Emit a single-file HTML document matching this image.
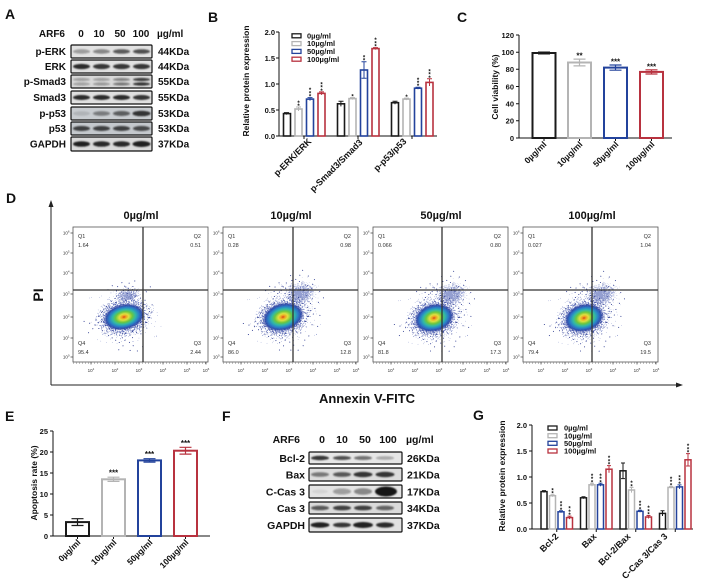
<!DOCTYPE html>
<html><head><meta charset="utf-8"><style>
html,body{margin:0;padding:0;background:#fff;}
svg{display:block;}
text{font-family:"Liberation Sans",Arial,sans-serif;font-weight:bold;fill:#111;}
.n{font-weight:normal;fill:#333;}
</style></head><body>
<svg width="701" height="584" viewBox="0 0 701 584">
<defs>
<filter id="bl" x="-50%" y="-100%" width="200%" height="300%"><feGaussianBlur stdDeviation="0.9"/></filter>
<filter id="speck" x="-5%" y="-5%" width="110%" height="110%" color-interpolation-filters="sRGB">
<feTurbulence type="fractalNoise" baseFrequency="0.9" numOctaves="2" seed="7" result="n"/>
<feComposite in="n" in2="SourceGraphic" operator="arithmetic" k1="0" k2="1" k3="0.6" k4="0" result="s"/>
<feComponentTransfer in="s" result="t"><feFuncA type="discrete" tableValues="0 0 0 0 0 0 0 0 1 1"/></feComponentTransfer>
<feFlood flood-color="#2f44a6" flood-opacity="0.85"/>
<feComposite in2="t" operator="in"/>
</filter>
<radialGradient id="fade">
<stop offset="0" stop-color="#fff" stop-opacity="1"/>
<stop offset="0.5" stop-color="#fff" stop-opacity="0.55"/>
<stop offset="1" stop-color="#fff" stop-opacity="0"/>
</radialGradient>
<radialGradient id="dens">
<stop offset="0" stop-color="#d8401c"/>
<stop offset="0.1" stop-color="#f0a020"/>
<stop offset="0.23" stop-color="#e0e040"/>
<stop offset="0.4" stop-color="#6cc640"/>
<stop offset="0.56" stop-color="#30b8a8"/>
<stop offset="0.72" stop-color="#2a7ec8"/>
<stop offset="0.86" stop-color="#2a48a8" stop-opacity="0.9"/>
<stop offset="1" stop-color="#2a3a96" stop-opacity="0"/>
</radialGradient>
<path id="dots" fill="none" stroke="#2b3990" stroke-width="1" stroke-linecap="round" d="M-30 2h.1M-28 -3h.1M-27 6h.1M-25 -6h.1M-24 9h.1M-23 0h.1M-22 12h.1M-21 -9h.1M-20 4h.1M-19 15h.1M-18 -12h.1M-17 8h.1M-16 18h.1M-15 -14h.1M-14 11h.1M-13 21h.1M-12 -16h.1M-11 14h.1M-10 24h.1M-9 -18h.1M-8 17h.1M-6 20h.1M-5 -20h.1M-4 23h.1M-3 -22h.1M-2 16h.1M0 26h.1M1 -24h.1M2 19h.1M4 22h.1M5 -26h.1M6 15h.1M8 -22h.1M9 18h.1M10 -27h.1M11 12h.1M12 -20h.1M13 20h.1M14 -25h.1M15 9h.1M16 -18h.1M17 14h.1M18 -23h.1M19 4h.1M20 -15h.1M21 10h.1M22 -8h.1M23 2h.1M24 -12h.1M25 6h.1M26 -3h.1M27 -20h.1M28 1h.1M30 -6h.1M32 -24h.1M-33 5h.1M-35 -1h.1M3 30h.1M-7 28h.1M7 -30h.1M26 0h.1M24 6h.1M20 10h.1M13 14h.1M5 16h.1M-5 16h.1M-13 14h.1M-20 10h.1M-24 6h.1M-26 0h.1M-24 -6h.1M-20 -10h.1M-13 -14h.1M-5 -16h.1M5 -16h.1M13 -14h.1M20 -10h.1M24 -6h.1M-10 -30h.1M-5 -33h.1M0 -31h.1M5 -34h.1M8 -29h.1M12 -32h.1M15 -28h.1M18 -33h.1M-2 -27h.1M3 -25h.1M10 -25h.1M-1 34h.1M6 36h.1M-12 31h.1M12 33h.1M-38 8h.1M-40 -4h.1"/>
<path id="dots2" fill="none" stroke="#2b3990" stroke-width="1" stroke-linecap="round" d="M25 -30h.1M30 -25h.1M35 -20h.1M28 -15h.1M33 -10h.1M38 -5h.1M30 5h.1M36 8h.1M40 -28h.1M22 -33h.1M27 -36h.1M18 -38h.1M35 -33h.1M42 -15h.1M26 15h.1M31 18h.1M20 25h.1M15 28h.1M44 -8h.1M24 -22h.1M29 -8h.1M33 0h.1M27 -28h.1M37 -24h.1M31 -40h.1"/>
</defs>

<!-- ================= PANEL A ================= -->
<text x="5" y="19" font-size="14">A</text>
<g font-size="10">
<text x="65" y="37" text-anchor="end">ARF6</text>
<text x="81" y="37" text-anchor="middle">0</text>
<text x="99" y="37" text-anchor="middle">10</text>
<text x="120" y="37" text-anchor="middle">50</text>
<text x="141" y="37" text-anchor="middle">100</text>
<text x="157" y="37">µg/ml</text>
<text x="66" y="55" text-anchor="end">p-ERK</text>
<text x="66" y="70" text-anchor="end">ERK</text>
<text x="66" y="85" text-anchor="end">p-Smad3</text>
<text x="66" y="101" text-anchor="end">Smad3</text>
<text x="66" y="117" text-anchor="end">p-p53</text>
<text x="66" y="132" text-anchor="end">p53</text>
<text x="66" y="147.5" text-anchor="end">GAPDH</text>
<text x="158" y="55">44KDa</text>
<text x="158" y="70">44KDa</text>
<text x="158" y="85">55KDa</text>
<text x="158" y="101">55KDa</text>
<text x="158" y="117">53KDa</text>
<text x="158" y="132">53KDa</text>
<text x="158" y="147.5">37KDa</text>
</g>
<g stroke="#111" stroke-width="1.2">
<rect x="71" y="45" width="81" height="13" rx="1" fill="#e2e2e2"/>
<rect x="71" y="60" width="81" height="13" rx="1" fill="#e0e0e0"/>
<rect x="71" y="75" width="81" height="13" rx="1" fill="#d8d8d8"/>
<rect x="71" y="91" width="81" height="13" rx="1" fill="#e0e0e0"/>
<rect x="71" y="107" width="81" height="13" rx="1" fill="#c8ccd0"/>
<rect x="71" y="122" width="81" height="13" rx="1" fill="#c4c8cc"/>
<rect x="71" y="137" width="81" height="14" rx="1" fill="#dadada"/>
</g>
<g fill="#151515" filter="url(#bl)">
<ellipse cx="81.5" cy="51.5" rx="8.5" ry="2.2" opacity="0.35"/><ellipse cx="101.5" cy="51.5" rx="8.5" ry="2.2" opacity="0.45"/><ellipse cx="121.5" cy="51.5" rx="8.5" ry="2.3" opacity="0.65"/><ellipse cx="141.5" cy="51.5" rx="8.5" ry="2.3" opacity="0.7"/>
<ellipse cx="81.5" cy="66.5" rx="8.5" ry="2.6" opacity="0.9"/><ellipse cx="101.5" cy="66.5" rx="8.5" ry="2.6" opacity="0.85"/><ellipse cx="121.5" cy="66.5" rx="8.5" ry="2.6" opacity="0.85"/><ellipse cx="141.5" cy="66.5" rx="8.5" ry="2.6" opacity="0.85"/>
<ellipse cx="81.5" cy="79.5" rx="8.5" ry="1.5" opacity="0.3"/><ellipse cx="101.5" cy="79.5" rx="8.5" ry="1.5" opacity="0.3"/><ellipse cx="121.5" cy="79.5" rx="8.5" ry="1.5" opacity="0.45"/><ellipse cx="141.5" cy="79.5" rx="8.5" ry="1.6" opacity="0.8"/>
<ellipse cx="81.5" cy="84" rx="8.5" ry="1.5" opacity="0.3"/><ellipse cx="101.5" cy="84" rx="8.5" ry="1.5" opacity="0.35"/><ellipse cx="121.5" cy="84" rx="8.5" ry="1.5" opacity="0.5"/><ellipse cx="141.5" cy="84" rx="8.5" ry="1.6" opacity="0.85"/>
<ellipse cx="81.5" cy="97.5" rx="8.5" ry="2.5" opacity="0.9"/><ellipse cx="101.5" cy="97.5" rx="8.5" ry="2.5" opacity="0.9"/><ellipse cx="121.5" cy="97.5" rx="8.5" ry="2.5" opacity="0.9"/><ellipse cx="141.5" cy="97.5" rx="8.5" ry="2.5" opacity="0.85"/>
<ellipse cx="81.5" cy="113.5" rx="8.5" ry="2.3" opacity="0.12"/><ellipse cx="101.5" cy="113.5" rx="8.5" ry="2.3" opacity="0.45"/><ellipse cx="121.5" cy="113.5" rx="8.5" ry="2.5" opacity="0.6"/><ellipse cx="141.5" cy="113.5" rx="9" ry="2.8" opacity="0.85"/>
<ellipse cx="81.5" cy="128.5" rx="8.5" ry="2.5" opacity="0.75"/><ellipse cx="101.5" cy="128.5" rx="8.5" ry="2.5" opacity="0.75"/><ellipse cx="121.5" cy="128.5" rx="8.5" ry="2.5" opacity="0.75"/><ellipse cx="141.5" cy="128.5" rx="8.5" ry="2.5" opacity="0.7"/>
<ellipse cx="81.5" cy="144" rx="8.5" ry="2.8" opacity="0.95"/><ellipse cx="101.5" cy="144" rx="8.5" ry="2.8" opacity="0.9"/><ellipse cx="121.5" cy="144" rx="8.5" ry="2.8" opacity="0.9"/><ellipse cx="141.5" cy="144" rx="9" ry="3" opacity="0.95"/>
</g>

<!-- ================= PANEL B ================= -->
<text x="208" y="22" font-size="14">B</text>
<text transform="translate(249,81) rotate(-90)" font-size="8.5" text-anchor="middle">Relative protein expression</text>
<g stroke="#111" stroke-width="1" fill="none">
<path d="M279 32V136H437"/>
<path d="M276 32H279M276 58H279M276 84H279M276 110H279M276 136H279M304 136V139M358 136V139M412 136V139"/>
</g>
<g font-size="7.5" text-anchor="end">
<text x="275" y="34.8">2.0</text><text x="275" y="60.8">1.5</text><text x="275" y="86.8">1.0</text><text x="275" y="112.8">0.5</text><text x="275" y="138.8">0.0</text>
</g>
<g fill="#fff" stroke-width="1.6">
<rect x="283.5" y="113.6" width="7" height="22.4" stroke="#1a1a1a"/>
<rect x="295" y="109" width="7" height="27" stroke="#b4b4b4"/>
<rect x="306.5" y="99.1" width="7" height="36.9" stroke="#23439c"/>
<rect x="318" y="93.4" width="7" height="42.6" stroke="#b8323f"/>
<rect x="337.5" y="103.8" width="7" height="32.2" stroke="#1a1a1a"/>
<rect x="349" y="98.6" width="7" height="37.4" stroke="#b4b4b4"/>
<rect x="360.5" y="70" width="7" height="66" stroke="#23439c"/>
<rect x="372" y="48.6" width="7" height="87.4" stroke="#b8323f"/>
<rect x="391.5" y="102.7" width="7" height="33.3" stroke="#1a1a1a"/>
<rect x="403" y="99.1" width="7" height="36.9" stroke="#b4b4b4"/>
<rect x="414.5" y="88.2" width="7" height="47.8" stroke="#23439c"/>
<rect x="426" y="82.4" width="7" height="53.6" stroke="#b8323f"/>
</g>
<g fill="none" stroke-width="1">
<path stroke="#1a1a1a" d="M286.5 112.6V114.6M284 112.6h5M340.9 101.2V106.4M338.5 101.2h5M395 101.2V104.2M392.5 101.2h5"/>
<path stroke="#b4b4b4" d="M298.5 107V111M296 107h5M352.5 97.6V99.6M350 97.6h5M406.5 98.1V100.1M404 98.1h5"/>
<path stroke="#23439c" d="M310 97.6V100.6M307.5 97.6h5M364 61.7V78.3M361.5 61.7h5M361.5 78.3h5M418 87.2V89.2M415.5 87.2h5"/>
<path stroke="#b8323f" d="M321.5 91.9V94.9M319 91.9h5M375.5 47.6V49.6M373 47.6h5M429.5 78.8V86M427 78.8h5"/>
</g>
<g font-size="6" text-anchor="middle">
<text x="298.5" y="108">*</text><text x="298.5" y="104.8">*</text>
<text x="310" y="98.6">*</text><text x="310" y="95.4">*</text><text x="310" y="92.2">*</text>
<text x="321.5" y="92.9">*</text><text x="321.5" y="89.7">*</text><text x="321.5" y="86.5">*</text>
<text x="352.5" y="98.6">*</text>
<text x="364" y="62.7">*</text><text x="364" y="59.5">*</text>
<text x="375.5" y="48.6">*</text><text x="375.5" y="45.4">*</text><text x="375.5" y="42.2">*</text>
<text x="406.5" y="99.1">*</text>
<text x="418" y="88.2">*</text><text x="418" y="85">*</text><text x="418" y="81.8">*</text>
<text x="429.5" y="79.8">*</text><text x="429.5" y="76.6">*</text><text x="429.5" y="73.4">*</text>
</g>
<g fill="#fff" stroke-width="1.3">
<rect x="292" y="33.8" width="9" height="4" stroke="#1a1a1a"/>
<rect x="292" y="41.6" width="9" height="4" stroke="#b4b4b4"/>
<rect x="292" y="49.4" width="9" height="4" stroke="#23439c"/>
<rect x="292" y="57.2" width="9" height="4" stroke="#b8323f"/>
</g>
<g font-size="7.5">
<text x="307" y="38.4">0µg/ml</text><text x="307" y="46.2">10µg/ml</text><text x="307" y="54">50µg/ml</text><text x="307" y="61.8">100µg/ml</text>
</g>
<g font-size="9" text-anchor="end">
<text transform="translate(312,142) rotate(-45)">p-ERK/ERK</text>
<text transform="translate(363,143) rotate(-45)">p-Smad3/Smad3</text>
<text transform="translate(407,142) rotate(-45)">p-p53/p53</text>
</g>

<!-- ================= PANEL C ================= -->
<text x="457" y="22" font-size="14">C</text>
<text transform="translate(498,87) rotate(-90)" font-size="8.5" text-anchor="middle">Cell viability (%)</text>
<g stroke="#111" stroke-width="1" fill="none">
<path d="M519 35V138H672"/>
<path d="M516 138H519M516 120.8H519M516 103.7H519M516 86.5H519M516 69.3H519M516 52.2H519M516 35H519M544 138V141M579.5 138V141M615.5 138V141M651.5 138V141"/>
</g>
<g font-size="7.5" text-anchor="end">
<text x="514" y="140.8">0</text><text x="514" y="123.6">20</text><text x="514" y="106.5">40</text><text x="514" y="89.3">60</text><text x="514" y="72.1">80</text><text x="514" y="55">100</text><text x="514" y="37.8">120</text>
</g>
<g fill="#fff" stroke-width="2">
<rect x="532.5" y="53" width="23" height="85" stroke="#1a1a1a"/>
<rect x="568" y="62.5" width="23" height="75.5" stroke="#b4b4b4"/>
<rect x="604" y="67.6" width="23" height="70.4" stroke="#23439c"/>
<rect x="640" y="71.9" width="23" height="66.1" stroke="#b8323f"/>
</g>
<g fill="none" stroke-width="1.2">
<path stroke="#1a1a1a" d="M538 52.1h12M538 53.9h12"/>
<path stroke="#b4b4b4" d="M579.5 59.1V65.9M573.5 59.1h12M573.5 65.9h12"/>
<path stroke="#23439c" d="M615.5 65V70.2M609.5 65h12M609.5 70.2h12"/>
<path stroke="#b8323f" d="M651.5 69.8V74M645.5 69.8h12M645.5 74h12"/>
</g>
<g font-size="8" text-anchor="middle">
<text x="579.5" y="58.6">**</text><text x="615.5" y="64.6">***</text><text x="651.5" y="69.6">***</text>
</g>
<g font-size="8.5" text-anchor="end">
<text transform="translate(547,145) rotate(-45)">0µg/ml</text>
<text transform="translate(583,145) rotate(-45)">10µg/ml</text>
<text transform="translate(619,145) rotate(-45)">50µg/ml</text>
<text transform="translate(655,145) rotate(-45)">100µg/ml</text>
</g>

<!-- ================= PANEL D ================= -->
<text x="6" y="203" font-size="14">D</text>
<g stroke="#222" stroke-width="1" fill="none"><path d="M51 385V205M51 385H677"/></g>
<polygon points="51,200 48.5,207 53.5,207" fill="#222"/>
<polygon points="683,385 676,382.5 676,387.5" fill="#222"/>
<text transform="translate(43,295) rotate(-90)" font-size="14" text-anchor="middle">PI</text>
<text x="367" y="403" font-size="13" text-anchor="middle">Annexin V-FITC</text>
<g font-size="11" text-anchor="middle">
<text x="141" y="219">0µg/ml</text><text x="291" y="219">10µg/ml</text><text x="441" y="219">50µg/ml</text><text x="592" y="219">100µg/ml</text>
</g>

<!-- flow panel 1 -->
<g transform="translate(73,227)">
<g transform="translate(51,90) rotate(-12)">
<ellipse rx="33" ry="24" fill="url(#fade)" filter="url(#speck)"/>
<ellipse cx="8" cy="-20" rx="16" ry="9" fill="url(#fade)" filter="url(#speck)" opacity="0.6"/>
<use href="#dots"/>
<ellipse rx="21" ry="13" fill="url(#dens)"/>
</g>
<rect x="0" y="0" width="135" height="135" fill="none" stroke="#555" stroke-width="0.8"/>
<path d="M70 0V135M0 63H135" stroke="#333" stroke-width="1.3" fill="none"/>
<path d="M0 6h-2.5M0 26h-2.5M0 46h-2.5M0 67h-2.5M0 90h-2.5M0 111h-2.5M0 130h-2.5M18 135v2.5M42 135v2.5M66 135v2.5M90 135v2.5M114 135v2.5M133 135v2.5" stroke="#444" stroke-width="0.7"/>
<path d="M0 136.2H135" stroke="#555" stroke-width="1.2" stroke-dasharray="0.5 2.5"/>
<g font-size="4.5" text-anchor="end">
<text class="n" x="-3.5" y="7.5">10<tspan dy="-2" font-size="3">6</tspan></text>
<text class="n" x="-3.5" y="27.5">10<tspan dy="-2" font-size="3">5</tspan></text>
<text class="n" x="-3.5" y="47.5">10<tspan dy="-2" font-size="3">4</tspan></text>
<text class="n" x="-3.5" y="68.5">10<tspan dy="-2" font-size="3">3</tspan></text>
<text class="n" x="-3.5" y="91.5">10<tspan dy="-2" font-size="3">2</tspan></text>
<text class="n" x="-3.5" y="112.5">10<tspan dy="-2" font-size="3">1</tspan></text>
<text class="n" x="-3.5" y="131.5">10<tspan dy="-2" font-size="3">0</tspan></text>
</g>
<g font-size="4.5" text-anchor="middle">
<text class="n" x="18" y="145">10<tspan dy="-2" font-size="3">1</tspan></text>
<text class="n" x="42" y="145">10<tspan dy="-2" font-size="3">2</tspan></text>
<text class="n" x="66" y="145">10<tspan dy="-2" font-size="3">3</tspan></text>
<text class="n" x="90" y="145">10<tspan dy="-2" font-size="3">4</tspan></text>
<text class="n" x="114" y="145">10<tspan dy="-2" font-size="3">5</tspan></text>
<text class="n" x="133" y="145">10<tspan dy="-2" font-size="3">6</tspan></text>
</g>
<g font-size="5.5">
<text class="n" x="5" y="11">Q1</text><text class="n" x="5" y="20">1.64</text>
<text class="n" x="128" y="11" text-anchor="end">Q2</text><text class="n" x="128" y="20" text-anchor="end">0.51</text>
<text class="n" x="5" y="118">Q4</text><text class="n" x="5" y="127">95.4</text>
<text class="n" x="128" y="118" text-anchor="end">Q3</text><text class="n" x="128" y="127" text-anchor="end">2.44</text>
</g>
</g>

<!-- flow panel 2 -->
<g transform="translate(223,227)">
<g transform="translate(60,90) rotate(-15)">
<ellipse rx="33" ry="25" fill="url(#fade)" filter="url(#speck)"/>
<ellipse cx="22" cy="-18" rx="20" ry="14" fill="url(#fade)" filter="url(#speck)" opacity="0.6"/>
<use href="#dots"/><use href="#dots2"/>
<ellipse rx="21" ry="14" fill="url(#dens)"/>
</g>
<rect x="0" y="0" width="135" height="135" fill="none" stroke="#555" stroke-width="0.8"/>
<path d="M70 0V135M0 63H135" stroke="#333" stroke-width="1.3" fill="none"/>
<path d="M0 6h-2.5M0 26h-2.5M0 46h-2.5M0 67h-2.5M0 90h-2.5M0 111h-2.5M0 130h-2.5M18 135v2.5M42 135v2.5M66 135v2.5M90 135v2.5M114 135v2.5M133 135v2.5" stroke="#444" stroke-width="0.7"/>
<path d="M0 136.2H135" stroke="#555" stroke-width="1.2" stroke-dasharray="0.5 2.5"/>
<g font-size="4.5" text-anchor="end">
<text class="n" x="-3.5" y="7.5">10<tspan dy="-2" font-size="3">6</tspan></text>
<text class="n" x="-3.5" y="27.5">10<tspan dy="-2" font-size="3">5</tspan></text>
<text class="n" x="-3.5" y="47.5">10<tspan dy="-2" font-size="3">4</tspan></text>
<text class="n" x="-3.5" y="68.5">10<tspan dy="-2" font-size="3">3</tspan></text>
<text class="n" x="-3.5" y="91.5">10<tspan dy="-2" font-size="3">2</tspan></text>
<text class="n" x="-3.5" y="112.5">10<tspan dy="-2" font-size="3">1</tspan></text>
<text class="n" x="-3.5" y="131.5">10<tspan dy="-2" font-size="3">0</tspan></text>
</g>
<g font-size="4.5" text-anchor="middle">
<text class="n" x="18" y="145">10<tspan dy="-2" font-size="3">1</tspan></text>
<text class="n" x="42" y="145">10<tspan dy="-2" font-size="3">2</tspan></text>
<text class="n" x="66" y="145">10<tspan dy="-2" font-size="3">3</tspan></text>
<text class="n" x="90" y="145">10<tspan dy="-2" font-size="3">4</tspan></text>
<text class="n" x="114" y="145">10<tspan dy="-2" font-size="3">5</tspan></text>
<text class="n" x="133" y="145">10<tspan dy="-2" font-size="3">6</tspan></text>
</g>
<g font-size="5.5">
<text class="n" x="5" y="11">Q1</text><text class="n" x="5" y="20">0.28</text>
<text class="n" x="128" y="11" text-anchor="end">Q2</text><text class="n" x="128" y="20" text-anchor="end">0.98</text>
<text class="n" x="5" y="118">Q4</text><text class="n" x="5" y="127">86.0</text>
<text class="n" x="128" y="118" text-anchor="end">Q3</text><text class="n" x="128" y="127" text-anchor="end">12.8</text>
</g>
</g>

<!-- flow panel 3 -->
<g transform="translate(373,227)">
<g transform="translate(61,91) rotate(-15)">
<ellipse rx="32" ry="25" fill="url(#fade)" filter="url(#speck)"/>
<ellipse cx="22" cy="-18" rx="20" ry="14" fill="url(#fade)" filter="url(#speck)" opacity="0.6"/>
<use href="#dots"/><use href="#dots2"/>
<ellipse rx="20" ry="14" fill="url(#dens)"/>
</g>
<rect x="0" y="0" width="135" height="135" fill="none" stroke="#555" stroke-width="0.8"/>
<path d="M69 0V135M0 63H135" stroke="#333" stroke-width="1.3" fill="none"/>
<path d="M0 6h-2.5M0 26h-2.5M0 46h-2.5M0 67h-2.5M0 90h-2.5M0 111h-2.5M0 130h-2.5M18 135v2.5M42 135v2.5M66 135v2.5M90 135v2.5M114 135v2.5M133 135v2.5" stroke="#444" stroke-width="0.7"/>
<path d="M0 136.2H135" stroke="#555" stroke-width="1.2" stroke-dasharray="0.5 2.5"/>
<g font-size="4.5" text-anchor="end">
<text class="n" x="-3.5" y="7.5">10<tspan dy="-2" font-size="3">6</tspan></text>
<text class="n" x="-3.5" y="27.5">10<tspan dy="-2" font-size="3">5</tspan></text>
<text class="n" x="-3.5" y="47.5">10<tspan dy="-2" font-size="3">4</tspan></text>
<text class="n" x="-3.5" y="68.5">10<tspan dy="-2" font-size="3">3</tspan></text>
<text class="n" x="-3.5" y="91.5">10<tspan dy="-2" font-size="3">2</tspan></text>
<text class="n" x="-3.5" y="112.5">10<tspan dy="-2" font-size="3">1</tspan></text>
<text class="n" x="-3.5" y="131.5">10<tspan dy="-2" font-size="3">0</tspan></text>
</g>
<g font-size="4.5" text-anchor="middle">
<text class="n" x="18" y="145">10<tspan dy="-2" font-size="3">1</tspan></text>
<text class="n" x="42" y="145">10<tspan dy="-2" font-size="3">2</tspan></text>
<text class="n" x="66" y="145">10<tspan dy="-2" font-size="3">3</tspan></text>
<text class="n" x="90" y="145">10<tspan dy="-2" font-size="3">4</tspan></text>
<text class="n" x="114" y="145">10<tspan dy="-2" font-size="3">5</tspan></text>
<text class="n" x="133" y="145">10<tspan dy="-2" font-size="3">6</tspan></text>
</g>
<g font-size="5.5">
<text class="n" x="5" y="11">Q1</text><text class="n" x="5" y="20">0.066</text>
<text class="n" x="128" y="11" text-anchor="end">Q2</text><text class="n" x="128" y="20" text-anchor="end">0.80</text>
<text class="n" x="5" y="118">Q4</text><text class="n" x="5" y="127">81.8</text>
<text class="n" x="128" y="118" text-anchor="end">Q3</text><text class="n" x="128" y="127" text-anchor="end">17.3</text>
</g>
</g>

<!-- flow panel 4 -->
<g transform="translate(523,227)">
<g transform="translate(61,91) rotate(-15)">
<ellipse rx="32" ry="25" fill="url(#fade)" filter="url(#speck)"/>
<ellipse cx="22" cy="-18" rx="20" ry="14" fill="url(#fade)" filter="url(#speck)" opacity="0.6"/>
<use href="#dots"/><use href="#dots2"/>
<ellipse rx="20" ry="14" fill="url(#dens)"/>
</g>
<rect x="0" y="0" width="135" height="135" fill="none" stroke="#555" stroke-width="0.8"/>
<path d="M69 0V135M0 63H135" stroke="#333" stroke-width="1.3" fill="none"/>
<path d="M0 6h-2.5M0 26h-2.5M0 46h-2.5M0 67h-2.5M0 90h-2.5M0 111h-2.5M0 130h-2.5M18 135v2.5M42 135v2.5M66 135v2.5M90 135v2.5M114 135v2.5M133 135v2.5" stroke="#444" stroke-width="0.7"/>
<path d="M0 136.2H135" stroke="#555" stroke-width="1.2" stroke-dasharray="0.5 2.5"/>
<g font-size="4.5" text-anchor="end">
<text class="n" x="-3.5" y="7.5">10<tspan dy="-2" font-size="3">6</tspan></text>
<text class="n" x="-3.5" y="27.5">10<tspan dy="-2" font-size="3">5</tspan></text>
<text class="n" x="-3.5" y="47.5">10<tspan dy="-2" font-size="3">4</tspan></text>
<text class="n" x="-3.5" y="68.5">10<tspan dy="-2" font-size="3">3</tspan></text>
<text class="n" x="-3.5" y="91.5">10<tspan dy="-2" font-size="3">2</tspan></text>
<text class="n" x="-3.5" y="112.5">10<tspan dy="-2" font-size="3">1</tspan></text>
<text class="n" x="-3.5" y="131.5">10<tspan dy="-2" font-size="3">0</tspan></text>
</g>
<g font-size="4.5" text-anchor="middle">
<text class="n" x="18" y="145">10<tspan dy="-2" font-size="3">1</tspan></text>
<text class="n" x="42" y="145">10<tspan dy="-2" font-size="3">2</tspan></text>
<text class="n" x="66" y="145">10<tspan dy="-2" font-size="3">3</tspan></text>
<text class="n" x="90" y="145">10<tspan dy="-2" font-size="3">4</tspan></text>
<text class="n" x="114" y="145">10<tspan dy="-2" font-size="3">5</tspan></text>
<text class="n" x="133" y="145">10<tspan dy="-2" font-size="3">6</tspan></text>
</g>
<g font-size="5.5">
<text class="n" x="5" y="11">Q1</text><text class="n" x="5" y="20">0.027</text>
<text class="n" x="128" y="11" text-anchor="end">Q2</text><text class="n" x="128" y="20" text-anchor="end">1.04</text>
<text class="n" x="5" y="118">Q4</text><text class="n" x="5" y="127">79.4</text>
<text class="n" x="128" y="118" text-anchor="end">Q3</text><text class="n" x="128" y="127" text-anchor="end">19.5</text>
</g>
</g>

<!-- ================= PANEL E ================= -->
<text x="5" y="421" font-size="14">E</text>
<text transform="translate(37,483) rotate(-90)" font-size="8.5" text-anchor="middle">Apoptosis rate (%)</text>
<g stroke="#111" stroke-width="1" fill="none">
<path d="M53 431V536H210"/>
<path d="M50 536H53M50 515H53M50 494H53M50 473H53M50 452H53M50 431H53M77.5 536V539M113.5 536V539M149.5 536V539M185.5 536V539"/>
</g>
<g font-size="7.5" text-anchor="end">
<text x="48" y="538.8">0</text><text x="48" y="517.8">5</text><text x="48" y="496.8">10</text><text x="48" y="475.8">15</text><text x="48" y="454.8">20</text><text x="48" y="433.8">25</text>
</g>
<g fill="#fff" stroke-width="2">
<rect x="66" y="522.1" width="23" height="13.9" stroke="#1a1a1a"/>
<rect x="102" y="479.3" width="23" height="56.7" stroke="#b4b4b4"/>
<rect x="138" y="460.4" width="23" height="75.6" stroke="#23439c"/>
<rect x="174" y="450.7" width="23" height="85.3" stroke="#b8323f"/>
</g>
<g fill="none" stroke-width="1.2">
<path stroke="#1a1a1a" d="M77.5 518.7V525.5M71.5 518.7h12M71.5 525.5h12"/>
<path stroke="#b4b4b4" d="M113.5 477.2V481.4M107.5 477.2h12M107.5 481.4h12"/>
<path stroke="#23439c" d="M149.5 458.7V462.1M143.5 458.7h12M143.5 462.1h12"/>
<path stroke="#b8323f" d="M185.5 447.3V454.1M179.5 447.3h12M179.5 454.1h12"/>
</g>
<g font-size="8" text-anchor="middle">
<text x="113.5" y="475.7">***</text><text x="149.5" y="457.2">***</text><text x="185.5" y="445.8">***</text>
</g>
<g font-size="8.5" text-anchor="end">
<text transform="translate(81,543) rotate(-45)">0µg/ml</text>
<text transform="translate(117,543) rotate(-45)">10µg/ml</text>
<text transform="translate(153,543) rotate(-45)">50µg/ml</text>
<text transform="translate(189,543) rotate(-45)">100µg/ml</text>
</g>

<!-- ================= PANEL F ================= -->
<text x="222" y="421" font-size="14">F</text>
<g font-size="10.5">
<text x="300" y="443" text-anchor="end">ARF6</text>
<text x="322" y="443" text-anchor="middle">0</text>
<text x="342" y="443" text-anchor="middle">10</text>
<text x="365" y="443" text-anchor="middle">50</text>
<text x="388" y="443" text-anchor="middle">100</text>
<text x="406" y="443">µg/ml</text>
<text x="305" y="462" text-anchor="end">Bcl-2</text>
<text x="305" y="478.5" text-anchor="end">Bax</text>
<text x="305" y="495.5" text-anchor="end">C-Cas 3</text>
<text x="305" y="512" text-anchor="end">Cas 3</text>
<text x="305" y="529" text-anchor="end">GAPDH</text>
<text x="407" y="462">26KDa</text>
<text x="407" y="478.5">21KDa</text>
<text x="407" y="495.5">17KDa</text>
<text x="407" y="512">34KDa</text>
<text x="407" y="529">37KDa</text>
</g>
<g stroke="#111" stroke-width="1.2">
<rect x="309" y="452" width="93" height="12" rx="1" fill="#e6e6e6"/>
<rect x="309" y="468" width="93" height="13" rx="1" fill="#dcdcdc"/>
<rect x="309" y="485" width="93" height="13" rx="1" fill="#e4e4e4"/>
<rect x="309" y="502" width="93" height="12" rx="1" fill="#dadada"/>
<rect x="309" y="518" width="93" height="14" rx="1" fill="#e2e2e2"/>
</g>
<g fill="#151515" filter="url(#bl)">
<ellipse cx="320" cy="458" rx="9" ry="2.2" opacity="0.85"/><ellipse cx="342" cy="458" rx="9" ry="2" opacity="0.7"/><ellipse cx="363" cy="458" rx="9" ry="2" opacity="0.55"/><ellipse cx="385" cy="458" rx="9" ry="1.8" opacity="0.3"/>
<ellipse cx="320" cy="474.5" rx="9" ry="2.3" opacity="0.5"/><ellipse cx="342" cy="474.5" rx="9" ry="2.4" opacity="0.65"/><ellipse cx="363" cy="474.5" rx="9.5" ry="2.7" opacity="0.85"/><ellipse cx="385" cy="474.5" rx="9.5" ry="2.7" opacity="0.85"/>
<ellipse cx="320" cy="491.5" rx="8" ry="2" opacity="0.07"/><ellipse cx="342" cy="491.5" rx="9" ry="3" opacity="0.35"/><ellipse cx="363" cy="491.5" rx="9" ry="3.2" opacity="0.45"/><ellipse cx="386" cy="491.5" rx="11" ry="5" opacity="1"/>
<ellipse cx="320" cy="508" rx="9" ry="2.3" opacity="0.65"/><ellipse cx="342" cy="508" rx="9" ry="2.4" opacity="0.8"/><ellipse cx="363" cy="508" rx="9" ry="2.4" opacity="0.8"/><ellipse cx="385" cy="508" rx="9" ry="2.3" opacity="0.6"/>
<ellipse cx="320" cy="525" rx="9.5" ry="2.7" opacity="0.95"/><ellipse cx="342" cy="525" rx="9" ry="2.4" opacity="0.85"/><ellipse cx="363" cy="525" rx="10" ry="3" opacity="0.95"/><ellipse cx="385" cy="525" rx="9" ry="2.6" opacity="0.9"/>
</g>

<!-- ================= PANEL G ================= -->
<text x="473" y="420" font-size="14">G</text>
<text transform="translate(505,476) rotate(-90)" font-size="8.5" text-anchor="middle">Relative protein expression</text>
<g stroke="#111" stroke-width="1" fill="none">
<path d="M532 425V529H693"/>
<path d="M529 529H532M529 503H532M529 477H532M529 451H532M529 425H532M556.75 529V532M596.25 529V532M635.75 529V532M675.25 529V532"/>
</g>
<g font-size="7.5" text-anchor="end">
<text x="527" y="531.8">0.0</text><text x="527" y="505.8">0.5</text><text x="527" y="479.8">1.0</text><text x="527" y="453.8">1.5</text><text x="527" y="427.8">2.0</text>
</g>
<g fill="#fff" stroke-width="1.5">
<rect x="541" y="491.6" width="6" height="37.4" stroke="#1a1a1a"/>
<rect x="549.5" y="495.7" width="6" height="33.3" stroke="#b4b4b4"/>
<rect x="558" y="511.8" width="6" height="17.2" stroke="#23439c"/>
<rect x="566.5" y="517.6" width="6" height="11.4" stroke="#b8323f"/>
<rect x="580.5" y="497.8" width="6" height="31.2" stroke="#1a1a1a"/>
<rect x="589" y="484.8" width="6" height="44.2" stroke="#b4b4b4"/>
<rect x="597.5" y="484.8" width="6" height="44.2" stroke="#23439c"/>
<rect x="606" y="469.2" width="6" height="59.8" stroke="#b8323f"/>
<rect x="620" y="470.8" width="6" height="58.2" stroke="#1a1a1a"/>
<rect x="628.5" y="490" width="6" height="39" stroke="#b4b4b4"/>
<rect x="637" y="511.3" width="6" height="17.7" stroke="#23439c"/>
<rect x="645.5" y="517" width="6" height="12" stroke="#b8323f"/>
<rect x="659.5" y="513.4" width="6" height="15.6" stroke="#1a1a1a"/>
<rect x="668" y="487.4" width="6" height="41.6" stroke="#b4b4b4"/>
<rect x="676.5" y="486.9" width="6" height="42.1" stroke="#23439c"/>
<rect x="685" y="459.8" width="6" height="69.2" stroke="#b8323f"/>
</g>
<g fill="none" stroke-width="1">
<path stroke="#1a1a1a" d="M544 490.6V492.6M542 490.6h4M583.5 496.8V498.8M581.5 496.8h4M623 463V478.6M621 463h4M621 478.6h4M662.5 510.8V516M660.5 510.8h4"/>
<path stroke="#b4b4b4" d="M552.5 494.7V496.7M550.5 494.7h4M592 483.3V486.3M590 483.3h4M631.5 487.4V492.6M629.5 487.4h4M671 486.4V488.4M669 486.4h4"/>
<path stroke="#23439c" d="M561 510.8V512.8M559 510.8h4M600.5 483.3V486.3M598.5 483.3h4M640 510.3V512.3M638 510.3h4M679.5 484.9V488.9M677.5 484.9h4"/>
<path stroke="#b8323f" d="M569.5 516.1V519.1M567.5 516.1h4M609 465.6V472.8M607 465.6h4M648.5 515.5V518.5M646.5 515.5h4M688 453.6V466M686 453.6h4M686 466h4"/>
</g>
<g font-size="6" text-anchor="middle">
<text x="552.5" y="495.7">*</text><text x="552.5" y="492.5">*</text>
<text x="561" y="511.8">*</text><text x="561" y="508.6">*</text><text x="561" y="505.4">*</text>
<text x="569.5" y="517.1">*</text><text x="569.5" y="513.9">*</text><text x="569.5" y="510.7">*</text>
<text x="592" y="484.3">*</text><text x="592" y="481.1">*</text><text x="592" y="477.9">*</text>
<text x="600.5" y="484.3">*</text><text x="600.5" y="481.1">*</text><text x="600.5" y="477.9">*</text>
<text x="609" y="466.6">*</text><text x="609" y="463.4">*</text><text x="609" y="460.2">*</text>
<text x="631.5" y="488.4">*</text><text x="631.5" y="485.2">*</text>
<text x="640" y="511.3">*</text><text x="640" y="508.1">*</text><text x="640" y="504.9">*</text>
<text x="648.5" y="516.5">*</text><text x="648.5" y="513.3">*</text><text x="648.5" y="510.1">*</text>
<text x="671" y="487.4">*</text><text x="671" y="484.2">*</text><text x="671" y="481">*</text>
<text x="679.5" y="485.9">*</text><text x="679.5" y="482.7">*</text><text x="679.5" y="479.5">*</text>
<text x="688" y="454.6">*</text><text x="688" y="451.4">*</text><text x="688" y="448.2">*</text>
</g>
<g fill="#fff" stroke-width="1.3">
<rect x="548" y="426" width="9" height="4" stroke="#1a1a1a"/>
<rect x="548" y="433.7" width="9" height="4" stroke="#b4b4b4"/>
<rect x="548" y="441.3" width="9" height="4" stroke="#23439c"/>
<rect x="548" y="449" width="9" height="4" stroke="#b8323f"/>
</g>
<g font-size="7.5">
<text x="564" y="430.6">0µg/ml</text><text x="564" y="438.3">10µg/ml</text><text x="564" y="445.9">50µg/ml</text><text x="564" y="453.6">100µg/ml</text>
</g>
<g font-size="9" text-anchor="end">
<text transform="translate(559,537) rotate(-45)">Bcl-2</text>
<text transform="translate(597,537) rotate(-45)">Bax</text>
<text transform="translate(631,537) rotate(-45)">Bcl-2/Bax</text>
<text transform="translate(668,537) rotate(-45)">C-Cas 3/Cas 3</text>
</g>
</svg>
</body></html>
